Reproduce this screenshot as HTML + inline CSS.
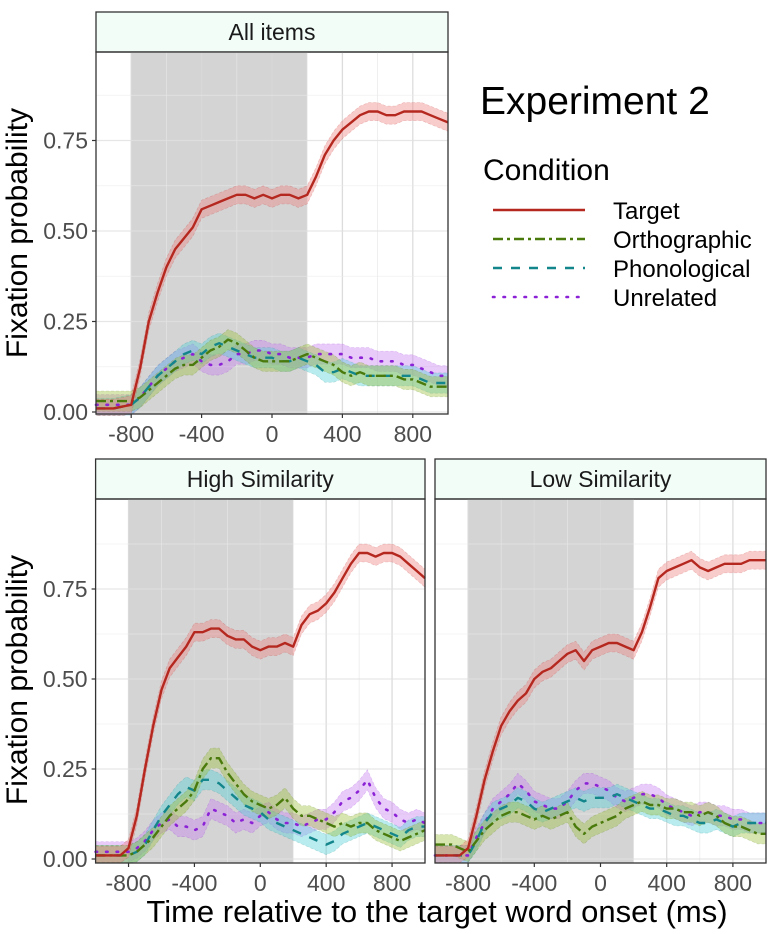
<!DOCTYPE html>
<html><head><meta charset="utf-8">
<style>
html,body{margin:0;padding:0;background:#fff;}
svg{display:block;font-family:"Liberation Sans",Arial,sans-serif;}
</style></head>
<body>
<svg id="chart" width="777" height="934" viewBox="0 0 777 934" xmlns="http://www.w3.org/2000/svg">
<text x="480" y="114" font-size="39" fill="#000">Experiment 2</text>
<text x="483" y="180" font-size="30" fill="#000">Condition</text>
<g>
<g><line x1="493" y1="210" x2="585" y2="210" stroke="#b5281f" stroke-width="2.4"/><text x="613" y="219" font-size="24">Target</text></g>
<g><line x1="493" y1="239" x2="585" y2="239" stroke="#4a7a0c" stroke-width="2.4" stroke-dasharray="10,4,3,4"/><text x="613" y="248" font-size="24">Orthographic</text></g>
<g><line x1="493" y1="268" x2="585" y2="268" stroke="#13868c" stroke-width="2.4" stroke-dasharray="9,9"/><text x="613" y="277" font-size="24">Phonological</text></g>
<g><line x1="493" y1="297" x2="585" y2="297" stroke="#8b22d6" stroke-width="2.6" stroke-dasharray="1.5,9" stroke-linecap="round"/><text x="613" y="306" font-size="24">Unrelated</text></g>
</g>
<text transform="translate(27,233) rotate(-90)" text-anchor="middle" font-size="30">Fixation probability</text>
<text transform="translate(27,680) rotate(-90)" text-anchor="middle" font-size="30">Fixation probability</text>
<text x="437" y="922" text-anchor="middle" font-size="31">Time relative to the target word onset (ms)</text>
</svg>
<script>
const times = [-1000,-950,-900,-850,-800,-750,-700,-650,-600,-550,-500,-450,-400,-350,-300,-250,-200,-150,-100,-50,0,50,100,150,200,250,300,350,400,450,500,550,600,650,700,750,800,850,900,950,1000];
const xTicks = [-800,-400,0,400,800];
const xTickLabels = ["-800","-400","0","400","800"];
const yTicks = [0,0.25,0.5,0.75];
const yTickLabels = ["0.00","0.25","0.50","0.75"];
const shadeStart = -800;
const shadeEnd = 200;

const allTarget = [.01,.01,.01,.015,.02,.12,.25,.33,.40,.45,.48,.51,.56,.57,.58,.59,.60,.60,.59,.60,.59,.60,.60,.59,.60,.65,.71,.75,.78,.80,.82,.83,.83,.82,.82,.83,.83,.83,.82,.81,.80];
const allOrtho = [.03,.03,.03,.03,.03,.04,.06,.08,.10,.12,.13,.13,.15,.17,.18,.20,.19,.17,.15,.14,.14,.14,.14,.15,.16,.15,.14,.13,.11,.10,.11,.10,.10,.10,.10,.09,.09,.08,.07,.07,.07];
const allPhon = [.01,.01,.01,.015,.02,.04,.07,.10,.12,.14,.16,.17,.16,.18,.19,.18,.17,.16,.15,.15,.15,.14,.14,.15,.14,.13,.11,.11,.12,.11,.10,.10,.10,.10,.10,.10,.10,.09,.08,.08,.08];
const allUnrel = [.02,.02,.02,.02,.02,.04,.07,.10,.12,.14,.15,.16,.14,.13,.13,.14,.16,.16,.17,.17,.16,.16,.15,.15,.15,.16,.16,.16,.16,.15,.15,.15,.14,.14,.14,.13,.13,.12,.11,.10,.10];

const hsTarget = [.01,.01,.01,.01,.03,.12,.25,.37,.47,.53,.56,.59,.63,.63,.64,.64,.62,.61,.61,.59,.58,.59,.59,.60,.59,.65,.68,.69,.71,.74,.78,.82,.85,.85,.84,.85,.85,.84,.82,.80,.78];
const hsOrtho = [.01,.01,.01,.01,.01,.02,.04,.06,.09,.12,.14,.16,.19,.25,.28,.28,.24,.21,.18,.16,.15,.14,.15,.17,.14,.12,.12,.11,.10,.09,.10,.09,.10,.10,.08,.07,.06,.05,.06,.07,.08];
const hsPhon = [.01,.01,.01,.01,.01,.02,.04,.08,.12,.15,.18,.20,.19,.22,.22,.21,.19,.17,.15,.14,.13,.11,.10,.09,.08,.07,.06,.05,.04,.05,.07,.08,.09,.10,.09,.08,.07,.06,.08,.09,.09];
const hsUnrel = [.02,.02,.02,.02,.02,.03,.05,.08,.10,.11,.09,.09,.08,.09,.14,.13,.12,.10,.11,.10,.12,.13,.11,.10,.10,.09,.10,.11,.11,.13,.16,.17,.19,.22,.17,.14,.13,.11,.10,.11,.10];

const lsTarget = [.01,.01,.01,.01,.03,.12,.22,.30,.37,.41,.44,.46,.50,.52,.53,.55,.57,.58,.55,.58,.59,.60,.60,.59,.58,.63,.70,.78,.80,.81,.82,.83,.81,.80,.81,.82,.82,.82,.83,.83,.83];
const lsOrtho = [.04,.04,.04,.03,.02,.05,.08,.10,.12,.13,.13,.12,.11,.12,.11,.12,.13,.09,.07,.09,.10,.11,.12,.14,.15,.16,.15,.15,.14,.14,.13,.13,.12,.13,.12,.10,.09,.09,.08,.07,.07];
const lsPhon = [.01,.01,.01,.01,.01,.05,.10,.13,.14,.15,.17,.16,.14,.13,.14,.15,.16,.17,.16,.17,.17,.17,.18,.17,.16,.15,.14,.14,.13,.12,.12,.11,.10,.10,.11,.10,.09,.10,.10,.10,.10];
const lsUnrel = [.01,.01,.01,.01,.01,.06,.10,.14,.16,.18,.21,.19,.16,.15,.14,.14,.16,.19,.21,.21,.20,.19,.17,.16,.17,.18,.18,.17,.15,.14,.13,.12,.13,.13,.12,.12,.11,.11,.10,.10,.10];

const NS = "http://www.w3.org/2000/svg";
const svg = document.getElementById("chart");
function mk(tag, attrs, parent){const e=document.createElementNS(NS,tag);for(const k in attrs)e.setAttribute(k,attrs[k]);(parent||svg).appendChild(e);return e;}

const styles = [
 {key:"target", line:"#b5281f", band:"#f08080", dash:null, w:2.4, hw:0.025},
 {key:"orthographic", line:"#4a7a0c", band:"#9cbf3a", dash:"10,4,3,4", w:2.4, hw:0.028},
 {key:"phonological", line:"#13868c", band:"#4fd0d6", dash:"9,9", w:2.4, hw:0.028},
 {key:"unrelated", line:"#8b22d6", band:"#c77ef0", dash:"1.5,9", w:2.6, hw:0.028}
];

function panel(name, title, x0, x1, sTop, pTop, pBot, yZero, k, series, showY){
  const g = mk("g",{});
  
  
  const xs = t => x0 + (t+1000)/2000*(x1-x0);
  const ys = v => yZero - v*k;
  const st = mk("rect",{x:x0,y:sTop,width:x1-x0,height:pTop-sTop,fill:"#f2fdf8",stroke:"#333","stroke-width":1.3},g);
  
  
  const stt = mk("text",{x:(x0+x1)/2,y:sTop+(pTop-sTop)/2+8,"text-anchor":"middle","font-size":23,fill:"#1a1a1a"},g);
  stt.textContent = title;
  
  
  const sh = mk("rect",{x:xs(shadeStart),y:pTop,width:xs(shadeEnd)-xs(shadeStart),height:pBot-pTop,fill:"#d4d4d4"},g);
  
  
  const minorX=[-1000,-600,-200,200,600,1000];
  minorX.forEach(t=>mk("line",{x1:xs(t),x2:xs(t),y1:pTop,y2:pBot,stroke:"#e6e6e6","stroke-width":0.8,"stroke-opacity":0.8},g));
  xTicks.forEach(t=>mk("line",{x1:xs(t),x2:xs(t),y1:pTop,y2:pBot,stroke:"#d8d8d8","stroke-width":1.3,"stroke-opacity":0.9},g));
  [0.125,0.375,0.625,0.875].forEach(v=>mk("line",{x1:x0,x2:x1,y1:ys(v),y2:ys(v),stroke:"#ebebeb","stroke-width":0.8,"stroke-opacity":0.7},g));
  yTicks.forEach(v=>mk("line",{x1:x0,x2:x1,y1:ys(v),y2:ys(v),stroke:"#e0e0e0","stroke-width":1.3,"stroke-opacity":0.8},g));
  const order=[3,2,1,0];
  order.forEach(i=>{
    const vals=series[i], s=styles[i];
    let d="";
    times.forEach((t,j)=>{d+=(j?"L":"M")+xs(t).toFixed(1)+","+ys(Math.min(vals[j]+s.hw,0.99)).toFixed(1);});
    for(let j=times.length-1;j>=0;j--){d+="L"+xs(times[j]).toFixed(1)+","+ys(Math.max(vals[j]-s.hw,-0.01)).toFixed(1);}
    const b=mk("path",{d:d+"Z",fill:s.band,"fill-opacity":0.4,stroke:s.line,"stroke-opacity":0.25,"stroke-width":0.6,"stroke-dasharray":"3,2"},g);
    
    
  });
  order.forEach(i=>{
    const vals=series[i], s=styles[i];
    let d="";
    times.forEach((t,j)=>{d+=(j?"L":"M")+xs(t).toFixed(1)+","+ys(vals[j]).toFixed(1);});
    const a={d:d,fill:"none",stroke:s.line,"stroke-width":s.w,"stroke-linejoin":"round"};
    if(s.dash){a["stroke-dasharray"]=s.dash;}
    if(s.key==="unrelated"){a["stroke-linecap"]="round";}
    const p=mk("path",a,g);
    
    
  });
  mk("rect",{x:x0,y:pTop,width:x1-x0,height:pBot-pTop,fill:"none",stroke:"#333","stroke-width":1.3},g);
  xTicks.forEach((t,i)=>{
    mk("line",{x1:xs(t),x2:xs(t),y1:pBot,y2:pBot+4,stroke:"#333","stroke-width":1.2},g);
    const tx=mk("text",{x:xs(t),y:pBot+28,"text-anchor":"middle","font-size":23,fill:"#4d4d4d"},g);
    tx.textContent=xTickLabels[i];
    
    
  });
  if(showY){
    yTicks.forEach((v,i)=>{
      mk("line",{x1:x0-4,x2:x0,y1:ys(v),y2:ys(v),stroke:"#333","stroke-width":1.2},g);
      const ty=mk("text",{x:x0-8,y:ys(v)+8,"text-anchor":"end","font-size":23,fill:"#4d4d4d"},g);
      ty.textContent=yTickLabels[i];
      
      
    });
  }
}
panel("all-items","All items",96,448,12,52,414,412,362,[allTarget,allOrtho,allPhon,allUnrel],true);
panel("high-similarity","High Similarity",95.6,425,459,499,863,859,360,[hsTarget,hsOrtho,hsPhon,hsUnrel],true);
panel("low-similarity","Low Similarity",435,766,459,499,863,859,360,[lsTarget,lsOrtho,lsPhon,lsUnrel],false);
</script>
</body></html>
